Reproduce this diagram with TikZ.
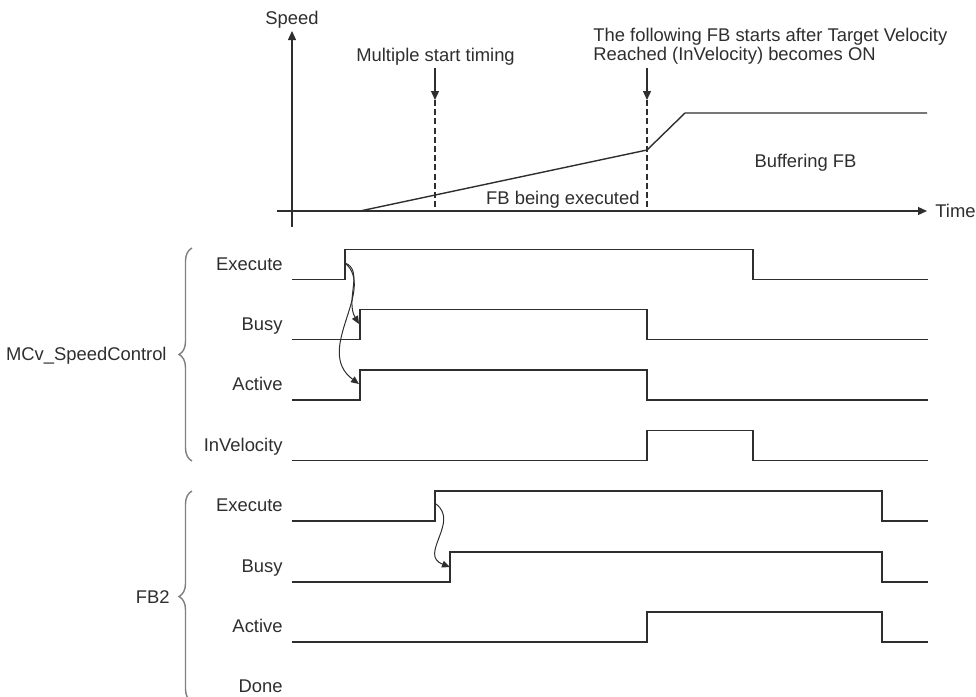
\documentclass[tikz,border=0pt]{standalone}
\usepackage{fontspec}
\setmainfont{Liberation Sans}
\usetikzlibrary{arrows.meta, positioning, decorations.pathreplacing}
\definecolor{tdink}{HTML}{2E2E2E}
\definecolor{tdgrey}{HTML}{7F7F7F}

\begin{document}
\begin{tikzpicture}[
  x=0.5pt, y=-0.5pt,
  font=\fontsize{9.2}{11}\selectfont, text=tdink,
  tdtxt/.style={inner sep=0pt},
  tdlbl/.style={tdtxt, anchor=base east},
  tdsig/.style={draw=tdink, line width=0.7pt},
  tdaxis/.style={draw=tdink, line width=0.65pt, -{Triangle[length=4.5pt, width=4pt]}},
  tdcut/.style={draw=tdink, line width=0.6pt, dash pattern=on 3pt off 1.6pt},
  tdcause/.style={draw=tdink, line width=0.5pt, -{Triangle[length=4pt, width=3.4pt]}},
  tdbrace/.style={draw=tdgrey, line width=0.7pt, decorate,
                  decoration={brace, amplitude=6.5pt}}
]
\useasboundingbox (0,0) rectangle (976,697);
\clip (0,0) rectangle (976,697);

% ---------------------------------------------- speed / time axes
\coordinate (sporig) at (292,227);
\coordinate (sptop) at (292,31);
\coordinate (tmorig) at (277,211);
\coordinate (tmend) at (927,211);
\draw[tdaxis] (sporig) -- (sptop);
\draw[tdaxis] (tmorig) -- (tmend);
\node[tdtxt, anchor=base] (speed) at (292,24.5) {Speed};
\node[tdtxt, anchor=base west] (time) at (935,217) {Time};

% ---------------------------------------------- velocity profile
\draw[tdsig] (360,211) -- (647,150) -- (685,113) -- (927,113);
\node[tdlbl] (fbexec) at (640,204) {FB being executed};
\node[tdtxt, anchor=base] (fbbuf) at (805.5,167) {Buffering FB};

% ---------------------------------------------- timing markers
\node[tdtxt, anchor=base] (multi) at (435.5,61.5) {Multiple start timing};
\node[tdtxt, anchor=north west, align=left,
      font=\fontsize{9.2}{9.15}\selectfont] (follow) at (593,28)
  {The following FB starts after Target Velocity\\
   Reached (InVelocity) becomes ON};

\coordinate (mk1a) at (435,68);
\coordinate (mk1b) at (435,100);
\coordinate (mk1c) at (435,211);
\draw[tdaxis] (mk1a) -- (mk1b);
\draw[tdcut] (mk1b) -- (mk1c);

\coordinate (mk2a) at (647,68);
\coordinate (mk2b) at (647,100);
\coordinate (mk2c) at (647,211);
\draw[tdaxis] (mk2a) -- (mk2b);
\draw[tdcut] (mk2b) -- (mk2c);

% ---------------------------------------------- MCv_SpeedControl signals
\node[tdlbl] (mexelbl) at (283,270) {Execute};
\node[tdlbl] (mbsylbl) at (283,330) {Busy};
\node[tdlbl] (mactlbl) at (283,390.5) {Active};
\node[tdlbl] (minvlbl) at (283,451) {InVelocity};

\draw[tdsig] (292,279.5) -- (345,279.5) -- (345,249.5) -- (753,249.5)
  -- (753,279.5) -- (928,279.5);
\draw[tdsig] (292,339.5) -- (360,339.5) -- (360,309.5) -- (647,309.5)
  -- (647,339.5) -- (928,339.5);
\draw[tdsig] (292,400) -- (360,400) -- (360,370) -- (647,370)
  -- (647,400) -- (928,400);
\draw[tdsig] (292,460.5) -- (647,460.5) -- (647,430.5) -- (753,430.5)
  -- (753,460.5) -- (928,460.5);

\coordinate (mexe) at (345,263);
\coordinate (mbusy) at (359,324);
\coordinate (mact) at (359,384);
\draw[tdcause] (mexe) .. controls (364,270) and (345,300) .. (mbusy);
\draw[tdcause] (mexe) .. controls (377,290) and (313,350) .. (mact);

\node[tdlbl] (mcv) at (167,360) {MCv\_SpeedControl};
\draw[tdbrace] (192,461) -- (192,248);

% ---------------------------------------------- FB2 signals
\node[tdlbl] (fexelbl) at (283,511.5) {Execute};
\node[tdlbl] (fbsylbl) at (283,572.5) {Busy};
\node[tdlbl] (factlbl) at (283,632.5) {Active};
\node[tdlbl] (fdonlbl) at (283,692.5) {Done};

\draw[tdsig] (292,521) -- (435,521) -- (435,491) -- (882,491)
  -- (882,521) -- (928,521);
\draw[tdsig] (292,582) -- (450,582) -- (450,552) -- (882,552)
  -- (882,582) -- (928,582);
\draw[tdsig] (292,642) -- (647,642) -- (647,612) -- (882,612)
  -- (882,642) -- (928,642);

\coordinate (fexe) at (436,504);
\coordinate (fbusy) at (450,567);
\draw[tdcause] (fexe) .. controls (460,522) and (418,555) .. (fbusy);

\node[tdlbl] (fb2) at (170,603) {FB2};
\draw[tdbrace] (192,702) -- (192,491);

\end{tikzpicture}
\end{document}
